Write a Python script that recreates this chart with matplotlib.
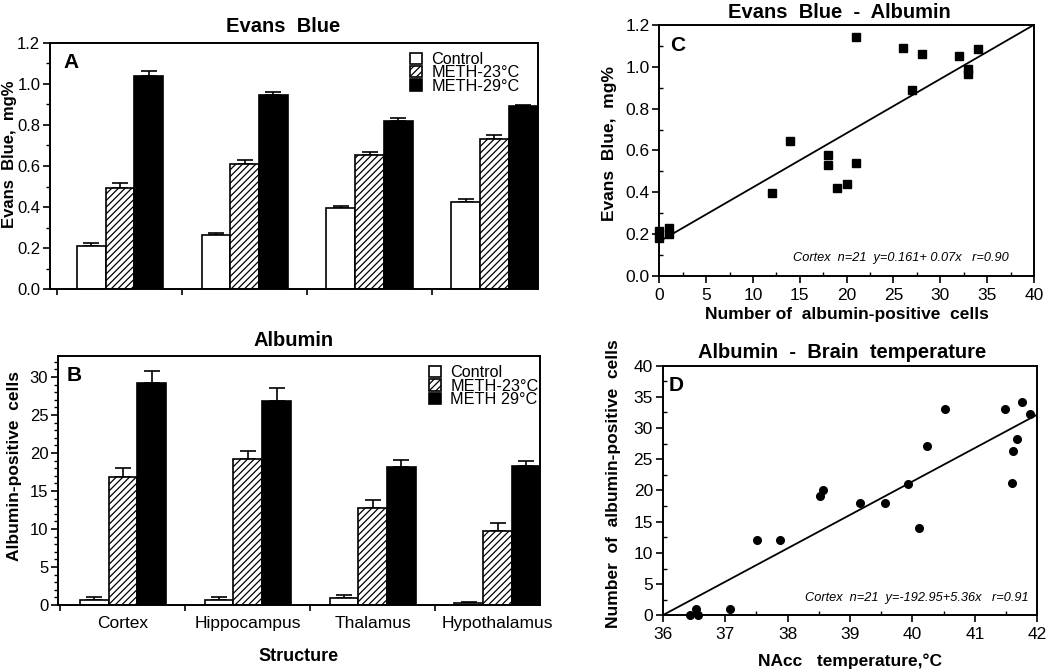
import numpy as np
import matplotlib
matplotlib.use("Agg")
import matplotlib.pyplot as plt
from matplotlib.patches import Patch
from matplotlib.ticker import MultipleLocator, FormatStrFormatter

plt.rcParams['font.family'] = ['Liberation Sans', 'DejaVu Sans']
plt.rcParams['hatch.linewidth'] = 0.9

# ---- data ----
structures = ["Cortex", "Hippocampus", "Thalamus", "Hypothalamus"]
groups = ["Control", "METH-23°C", "METH-29°C"]
groups_b = ["Control", "METH-23°C", "METH 29°C"]

# panel A: Evans Blue, mg%
eb_ctrl = [0.21, 0.266, 0.398, 0.426]
eb_ctrl_err = [0.013, 0.01, 0.005, 0.013]
eb_m23 = [0.495, 0.61, 0.653, 0.73]
eb_m23_err = [0.024, 0.019, 0.013, 0.019]
eb_m29 = [1.036, 0.944, 0.817, 0.892]
eb_m29_err = [0.026, 0.018, 0.018, 0.005]

# panel B: albumin-positive cells
alb_ctrl = [0.6, 0.7, 0.9, 0.3]
alb_ctrl_err = [0.4, 0.35, 0.35, 0.1]
alb_m23 = [16.8, 19.2, 12.8, 9.7]
alb_m23_err = [1.25, 1.1, 1.0, 1.1]
alb_m29 = [29.2, 26.9, 18.1, 18.3]
alb_m29_err = [1.6, 1.6, 1.0, 0.7]

# panel C: albumin cells vs Evans Blue
c_cells = [0, 0, 1, 1, 12, 14, 18, 18, 19, 20, 21, 21, 26, 27, 28, 32, 33, 33, 34]
c_eb = [0.217, 0.18, 0.228, 0.199, 0.398, 0.644, 0.577, 0.532, 0.419, 0.44,
        0.539, 1.143, 1.088, 0.889, 1.063, 1.05, 0.991, 0.966, 1.084]
c_intercept, c_slope = 0.165, 0.0259

# panel D: NAcc temperature vs albumin cells
d_temp = [36.44, 36.54, 36.57, 37.08, 37.51, 37.88, 38.52, 38.56, 39.16, 39.56,
          39.93, 40.11, 40.24, 40.52, 41.49, 41.60, 41.61, 41.67, 41.75, 41.88]
d_cells = [0, 1, 0, 1, 12, 12, 19.1, 20, 18, 18,
           21.1, 14, 27.1, 33.1, 33.1, 21.2, 26.3, 28.3, 34.2, 32.2]
d_intercept, d_slope = -192.95, 5.36

fig = plt.figure(figsize=(10.5, 6.71), dpi=100)
W, H = 1050, 671

def add_ax(l, r, t, b):
    return fig.add_axes([l / W, 1 - b / H, (r - l) / W, (b - t) / H])

axA = add_ax(50, 538, 42.7, 289.3)
axB = add_ax(58, 540, 355.7, 605)
axC = add_ax(659.3, 1034, 25, 276)
axD = add_ax(662.7, 1037.3, 365.7, 615.3)

TICK = 12
LAB = 12.5
bw = 0.23
x = np.arange(len(structures))
styles = [dict(color='white'), dict(color='white', hatch='/////'), dict(color='black')]


def bar_panel(ax, series, errs):
    for k, (vals, err) in enumerate(zip(series, errs)):
        xs = x + (k - 1) * bw
        ax.bar(xs, vals, bw, edgecolor='black', linewidth=1.2, zorder=2, **styles[k])
        ax.errorbar(xs, vals, yerr=[np.zeros(len(vals)), err], fmt='none',
                    ecolor='black', elinewidth=1.2, capsize=6, capthick=1.2, zorder=1)
    ax.set_xticks(x - 0.5)
    ax.set_xticklabels([])
    ax.tick_params(axis='x', which='major', direction='out', length=4, width=1.2)
    ax.tick_params(axis='y', which='major', direction='out', length=5, width=1.2,
                   labelsize=TICK, pad=2)
    ax.tick_params(axis='y', which='minor', direction='out', length=3, width=1)
    for s in ax.spines.values():
        s.set_linewidth(1.4)


bar_panel(axA, [eb_ctrl, eb_m23, eb_m29], [eb_ctrl_err, eb_m23_err, eb_m29_err])
axA.set_xlim(-0.56, 3.35)
axA.set_ylim(0, 1.2)
axA.yaxis.set_major_locator(MultipleLocator(0.2))
axA.yaxis.set_minor_locator(MultipleLocator(0.1))
axA.yaxis.set_major_formatter(FormatStrFormatter('%.1f'))
axA.set_ylabel("Evans  Blue,  mg%", fontsize=12, fontweight='bold')
axA.yaxis.set_label_coords(-0.067, 0.549)
axA.text(0.027, 0.96, "A", transform=axA.transAxes, fontsize=15, fontweight='bold', va='top')

bar_panel(axB, [alb_ctrl, alb_m23, alb_m29], [alb_ctrl_err, alb_m23_err, alb_m29_err])
axB.set_xlim(-0.52, 3.34)
axB.set_ylim(0, 32.8)
axB.yaxis.set_major_locator(MultipleLocator(5))
axB.yaxis.set_minor_locator(MultipleLocator(1))
axB.set_xticks(x, minor=True)
axB.set_xticklabels(structures, minor=True, fontsize=12.5)
axB.tick_params(axis='x', which='minor', length=0, pad=8)
axB.set_ylabel("Albumin-positive  cells", fontsize=LAB, fontweight='bold')
axB.yaxis.set_label_coords(-0.075, 0.558)
axB.set_xlabel("Structure", fontsize=13, fontweight='bold')
axB.xaxis.set_label_coords(0.5, -0.172)
axB.text(0.017, 0.957, "B", transform=axB.transAxes, fontsize=15, fontweight='bold', va='top')


def legend_handles():
    return [Patch(facecolor='white', edgecolor='black', linewidth=1.2),
            Patch(facecolor='white', edgecolor='black', hatch='/////', linewidth=1.2),
            Patch(facecolor='black', edgecolor='black', linewidth=1.2)]


axA.legend(legend_handles(), groups, loc='upper left', bbox_to_anchor=(0.738, 0.962),
           frameon=False, fontsize=11.7, handlelength=0.7, handleheight=0.7,
           handletextpad=0.6, labelspacing=-0.1, borderpad=0, borderaxespad=0)
axB.legend(legend_handles(), groups_b, loc='upper left', bbox_to_anchor=(0.77, 0.962),
           frameon=False, fontsize=11.7, handlelength=0.7, handleheight=0.7,
           handletextpad=0.6, labelspacing=-0.1, borderpad=0, borderaxespad=0)

# panel C
axC.plot(c_cells, c_eb, 's', color='black', markersize=5.5, clip_on=False, zorder=3)
lx = np.array([0, 40])
axC.plot(lx, c_intercept + c_slope * lx, color='black', linewidth=1.3)
axC.set_xlim(0, 40)
axC.set_ylim(0, 1.2)
axC.xaxis.set_major_locator(MultipleLocator(5))
axC.xaxis.set_minor_locator(MultipleLocator(2.5))
axC.yaxis.set_major_locator(MultipleLocator(0.2))
axC.yaxis.set_minor_locator(MultipleLocator(0.1))
axC.yaxis.set_major_formatter(FormatStrFormatter('%.1f'))
axC.set_ylabel("Evans  Blue,  mg%", fontsize=LAB, fontweight='bold')
axC.yaxis.set_label_coords(-0.112, 0.526)
axC.set_xlabel("Number of  albumin-positive  cells", fontsize=LAB, fontweight='bold')
axC.xaxis.set_label_coords(0.5, -0.124)
axC.text(0.029, 0.955, "C", transform=axC.transAxes, fontsize=15, fontweight='bold', va='top')
axC.text(0.357, 0.072, "Cortex  n=21  y=0.161+ 0.07x   r=0.90", transform=axC.transAxes,
         fontsize=9.2, style='italic', va='center')

# panel D
axD.plot(d_temp, d_cells, 'o', color='black', markersize=5.5, clip_on=False, zorder=3)
lx = np.array([36, 42])
axD.plot(lx, d_intercept + d_slope * lx, color='black', linewidth=1.3)
axD.set_xlim(36, 42)
axD.set_ylim(0, 40)
axD.xaxis.set_major_locator(MultipleLocator(1))
axD.xaxis.set_minor_locator(MultipleLocator(0.5))
axD.yaxis.set_major_locator(MultipleLocator(5))
axD.yaxis.set_minor_locator(MultipleLocator(2.5))
axD.set_ylabel("Number  of  albumin-positive  cells", fontsize=LAB, fontweight='bold')
axD.yaxis.set_label_coords(-0.111, 0.526)
axD.set_xlabel("NAcc   temperature,°C", fontsize=LAB, fontweight='bold')
axD.xaxis.set_label_coords(0.5, -0.151)
axD.text(0.017, 0.957, "D", transform=axD.transAxes, fontsize=15, fontweight='bold', va='top')
axD.text(0.38, 0.069, "Cortex  n=21  y=-192.95+5.36x   r=0.91", transform=axD.transAxes,
         fontsize=9.2, style='italic', va='center')

for ax in (axC, axD):
    ax.tick_params(which='major', direction='out', length=5, width=1.2, labelsize=12.5)
    ax.tick_params(axis='y', which='major', pad=2)
    ax.tick_params(which='minor', direction='in', length=3, width=1)
    for s in ax.spines.values():
        s.set_linewidth(1.4)

# titles
TT = 14.5
fig.text(283 / W, 1 - 27 / H, "Evans  Blue", ha='center', va='center', fontsize=TT, fontweight='bold')
fig.text(294 / W, 1 - 341 / H, "Albumin", ha='center', va='center', fontsize=TT, fontweight='bold')
fig.text(839 / W, 1 - 12 / H, "Evans  Blue  -  Albumin", ha='center', va='center', fontsize=TT, fontweight='bold')
fig.text(842 / W, 1 - 352 / H, "Albumin  -  Brain  temperature", ha='center', va='center', fontsize=TT, fontweight='bold')

fig.savefig("out.png", dpi=100)
